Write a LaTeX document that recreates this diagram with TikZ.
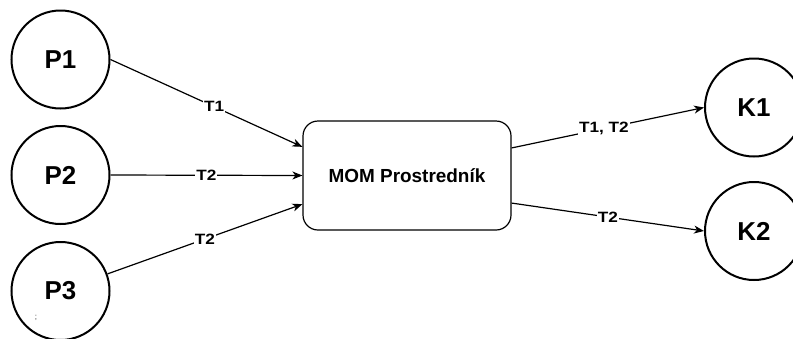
\documentclass[tikz,border=0pt]{standalone}
\usepackage{fontspec}
\setmainfont{Liberation Sans}
\usetikzlibrary{arrows.meta,calc}
\begin{document}
\begin{tikzpicture}[x=1bp,y=-1bp,
  party/.style={circle,draw,line width=2bp,minimum size=98bp,inner sep=0pt,
    font=\fontsize{26}{30}\selectfont\bfseries},
  broker/.style={draw,line width=1.2bp,rounded corners=15bp,minimum width=208bp,
    minimum height=109bp,inner sep=0pt,font=\fontsize{19}{22}\selectfont\bfseries},
  flow/.style={line width=1.2bp,-{Stealth[length=10bp,width=8bp,inset=3bp]}},
  tag/.style={fill=white,inner sep=1bp,font=\fontsize{15}{17}\selectfont\bfseries}]
\useasboundingbox (0,0) rectangle (793,338);
% producers
\node[party] (p1) at (60.5,59.5) {P1};
\node[party] (p2) at (60.5,175) {P2};
\node[party] (p3) at (60.5,291) {P3};
\node[font=\fontsize{8}{9}\selectfont,text=black!80] (mark) at (36,317.5) {;};
% broker
\node[broker] (mom) at (407,175.5) {MOM Prostredník};
% consumers
\node[party] (k1) at (754,107.5) {K1};
\node[party] (k2) at (754,231) {K2};
% message flows
\draw[flow] (p1.east) -- node[tag,pos=0.54] {\scalebox{1.15}[1]{T1}} ($(mom.north west)!0.24!(mom.south west)$);
\draw[flow] (p2.east) -- node[tag,pos=0.5] {\scalebox{1.15}[1]{T2}} (mom.west);
\draw[flow] (p3.20) -- node[tag,pos=0.5] {\scalebox{1.15}[1]{T2}} ($(mom.north west)!0.76!(mom.south west)$);
\draw[flow] ($(mom.north east)!0.25!(mom.south east)$) -- node[tag,pos=0.48] {\scalebox{1.15}[1]{T1, T2}} (k1.west);
\draw[flow] ($(mom.north east)!0.75!(mom.south east)$) -- node[tag,pos=0.5] {\scalebox{1.15}[1]{T2}} (k2.west);
\end{tikzpicture}
\end{document}
